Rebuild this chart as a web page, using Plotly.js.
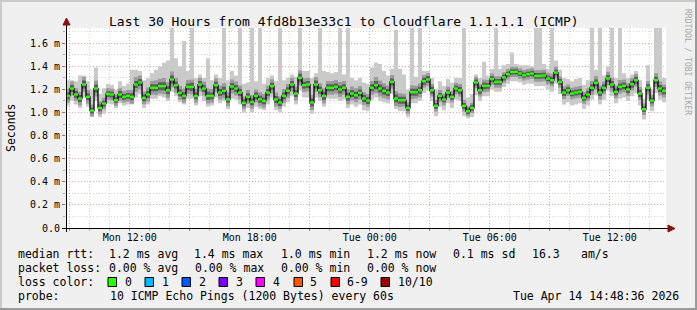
<!DOCTYPE html>
<html><head><meta charset="utf-8">
<script src="https://cdn.plot.ly/plotly-3.0.1.min.js"></script>
<style>html,body{margin:0;padding:0;background:#f0f0f0;}#chart{width:697px;height:310px;}</style>
</head><body><div id="chart"></div>
<script>
// ---- data (ms) ----
const startTime = '2026-04-13 08:48:36';
const endTime = '2026-04-14 14:48:36';
const stepMinutes = 12;

const medianRtt = [
1.144,1.208,1.156,1.121,1.242,1.136,1.017,1.208,1.040,1.078,
1.160,1.156,1.107,1.156,1.136,1.144,1.136,1.242,1.260,1.127,
1.156,1.214,1.214,1.228,1.228,1.193,1.286,1.237,1.170,1.145,
1.222,1.222,1.144,1.242,1.208,1.144,1.144,1.237,1.173,1.188,
1.115,1.225,1.208,1.173,1.084,1.136,1.092,1.144,1.115,1.101,
1.173,1.228,1.113,1.087,1.144,1.188,1.242,1.165,1.300,1.237,
1.242,1.087,1.242,1.193,1.144,1.214,1.214,1.222,1.200,1.214,
1.136,1.165,1.150,1.170,1.121,1.104,1.214,1.237,1.208,1.188,
1.173,1.265,1.121,1.107,1.107,1.040,1.176,1.176,1.193,1.271,
1.286,1.193,1.058,1.144,1.113,1.173,1.136,1.208,1.193,1.058,
1.012,1.040,1.260,1.193,1.231,1.231,1.289,1.265,1.265,1.303,
1.332,1.352,1.352,1.338,1.323,1.332,1.338,1.317,1.317,1.320,
1.294,1.280,1.346,1.265,1.173,1.193,1.165,1.173,1.179,1.127,
1.156,1.214,1.257,1.173,1.214,1.294,1.242,1.179,1.222,1.231,
1.200,1.245,1.280,1.165,1.029,1.214,1.104,1.280,1.208,1.188];

const maxRtt = [
1.28,1.28,1.27,1.32,1.32,1.27,1.20,1.39,1.16,1.21,
1.25,1.24,1.20,1.27,1.23,1.25,1.37,1.37,1.36,1.28,
1.30,1.34,1.37,1.40,1.43,1.45,1.76,1.47,1.40,1.62,
1.36,1.76,1.30,1.33,1.30,1.47,1.28,1.33,1.30,1.76,
1.28,1.36,1.32,1.76,1.25,1.26,1.76,1.27,1.76,1.25,
1.30,1.32,1.27,1.76,1.28,1.30,1.33,1.31,1.76,1.36,
1.36,1.30,1.34,1.76,1.36,1.35,1.34,1.35,1.76,1.33,
1.76,1.30,1.28,1.30,1.26,1.25,1.39,1.43,1.42,1.36,
1.32,1.38,1.72,1.38,1.33,1.20,1.76,1.31,1.76,1.36,
1.36,1.30,1.20,1.27,1.23,1.29,1.26,1.30,1.30,1.76,
1.13,1.16,1.33,1.30,1.44,1.32,1.38,1.76,1.38,1.41,
1.42,1.52,1.42,1.41,1.41,1.41,1.40,1.76,1.76,1.42,
1.38,1.76,1.45,1.37,1.30,1.29,1.27,1.29,1.30,1.24,
1.28,1.76,1.37,1.76,1.32,1.40,1.76,1.30,1.76,1.34,
1.30,1.33,1.36,1.28,1.12,1.41,1.20,1.76,1.76,1.30];

const minRtt = [
1.06,1.10,1.07,1.04,1.13,1.05,0.96,1.10,0.96,0.99,
1.08,1.07,1.04,1.08,1.06,1.07,1.07,1.13,1.16,1.04,
1.07,1.12,1.12,1.14,1.13,1.10,1.18,1.14,1.09,1.07,
1.12,1.12,1.06,1.14,1.10,1.05,1.06,1.13,1.08,1.10,
1.03,1.12,1.11,1.07,1.00,1.04,1.00,1.05,1.03,1.02,
1.07,1.13,1.02,1.00,1.05,1.09,1.14,1.07,1.19,1.13,
1.13,0.99,1.13,1.10,1.05,1.12,1.12,1.12,1.10,1.11,
1.04,1.07,1.05,1.07,1.02,1.01,1.11,1.13,1.10,1.09,
1.08,1.16,1.03,1.01,1.01,0.96,1.08,1.08,1.10,1.17,
1.19,1.10,0.97,1.05,1.02,1.08,1.04,1.11,1.10,0.97,
0.95,0.96,1.15,1.10,1.14,1.14,1.20,1.18,1.18,1.22,
1.25,1.27,1.27,1.26,1.24,1.25,1.25,1.23,1.23,1.23,
1.20,1.18,1.25,1.16,1.07,1.09,1.06,1.07,1.08,1.03,
1.06,1.11,1.15,1.07,1.11,1.19,1.14,1.08,1.12,1.13,
1.10,1.14,1.17,1.06,0.94,1.11,1.01,1.17,1.11,1.09];

const midSpread = [
.060,.060,.055,.060,.065,.060,.050,.070,.055,.050,
.050,.050,.050,.055,.050,.050,.060,.065,.060,.055,
.060,.060,.065,.065,.070,.070,.070,.065,.060,.060,
.060,.065,.060,.060,.060,.065,.060,.060,.060,.065,
.060,.060,.060,.060,.055,.060,.060,.055,.060,.060,
.060,.060,.060,.055,.060,.060,.060,.060,.065,.060,
.060,.065,.065,.060,.065,.060,.060,.060,.065,.060,
.065,.060,.060,.060,.055,.055,.060,.070,.070,.065,
.060,.060,.065,.060,.055,.050,.060,.055,.060,.055,
.055,.055,.050,.050,.050,.050,.050,.050,.055,.050,
.045,.045,.050,.055,.055,.050,.050,.050,.050,.045,
.045,.045,.045,.045,.045,.045,.045,.050,.050,.050,
.050,.055,.050,.050,.055,.050,.050,.050,.050,.050,
.055,.060,.060,.060,.055,.060,.060,.055,.060,.055,
.055,.055,.055,.055,.050,.060,.050,.060,.060,.055];

const darkSpread = [
.030,.030,.030,.030,.035,.030,.025,.035,.030,.025,
.025,.025,.025,.030,.025,.025,.030,.030,.030,.030,
.030,.030,.030,.035,.035,.035,.035,.030,.030,.030,
.030,.035,.030,.030,.030,.035,.030,.030,.030,.035,
.030,.030,.030,.030,.030,.030,.030,.030,.030,.030,
.030,.030,.030,.030,.030,.030,.030,.030,.035,.030,
.030,.035,.035,.030,.035,.030,.030,.030,.035,.030,
.035,.030,.030,.030,.030,.030,.030,.035,.035,.035,
.030,.030,.035,.030,.030,.025,.030,.030,.030,.030,
.030,.030,.025,.025,.025,.025,.025,.025,.030,.025,
.025,.025,.025,.030,.030,.025,.025,.025,.025,.025,
.022,.022,.022,.022,.022,.022,.022,.025,.025,.025,
.025,.030,.025,.025,.030,.025,.025,.025,.025,.025,
.030,.030,.030,.030,.030,.030,.030,.030,.030,.030,
.030,.030,.030,.030,.025,.030,.025,.030,.030,.030];

const yTickVals = [0,0.2,0.4,0.6,0.8,1.0,1.2,1.4,1.6];
const yTickText = ['0.0','0.2 m','0.4 m','0.6 m','0.8 m','1.0 m','1.2 m','1.4 m','1.6 m'];
const xTickVals = ['2026-04-13 09:00','2026-04-13 12:00','2026-04-13 15:00','2026-04-13 18:00','2026-04-13 21:00',
                   '2026-04-14 00:00','2026-04-14 03:00','2026-04-14 06:00','2026-04-14 09:00','2026-04-14 12:00'];
const xTickText = ['','Mon 12:00','','Mon 18:00','','Tue 00:00','','Tue 06:00','','Tue 12:00'];

const titleText = 'Last 30 Hours from 4fd8b13e33c1 to Cloudflare 1.1.1.1 (ICMP)';
const rttLabel = 'median rtt:';
const rttItems = ['1.2 ms avg','1.4 ms max','1.0 ms min','1.2 ms now','0.1 ms sd','16.3','am/s'];
const lossLabel = 'packet loss:';
const lossItems = ['0.00 % avg','0.00 % max','0.00 % min','0.00 % now'];
const lossColorLabel = 'loss color:';
const lossLabels = ['0','1','2','3','4','5','6-9','10/10'];
const lossColors = ['#26ff00','#00b8ff','#0059ff','#7e00ff','#ff00ff','#ff5500','#ff0000','#a10000'];
const probeLabel = 'probe:';
const probeText = '10 ICMP Echo Pings (1200 Bytes) every 60s';
const stampText = 'Tue Apr 14 14:48:36 2026';
const watermark = 'RRDTOOL / TOBI OETIKER';

// ---- geometry helpers (pixel -> paper) ----
const L = 66, T = 28, W = 600, H = 200;
const px = x => (x - L) / W;
const py = y => (T + H - y) / H;

const n = medianRtt.length;
const t0 = Date.UTC(2026,3,13,8,48,36);
const tStr = k => new Date(t0 + k*stepMinutes*60000).toISOString().replace('T',' ').replace('Z','');
const xs = [];
for (let k = 0; k <= n; k++) xs.push(tStr(k));
const ext = a => a.concat([a[a.length-1]]);

const traces = [];
function band(lo, hi, color) {
  traces.push({x: xs, y: ext(lo), mode:'lines', line:{shape:'hv', width:0, color:'rgba(0,0,0,0)'}, hoverinfo:'skip'});
  traces.push({x: xs, y: ext(hi), mode:'lines', fill:'tonexty', fillcolor: color, line:{shape:'hv', width:0, color:'rgba(0,0,0,0)'}, hoverinfo:'skip'});
}
band(minRtt, maxRtt, '#cacaca');
band(medianRtt.map((m,i)=>m-midSpread[i]), medianRtt.map((m,i)=>m+midSpread[i]), '#9c9c9c');
band(medianRtt.map((m,i)=>m-darkSpread[i]), medianRtt.map((m,i)=>m+darkSpread[i]), '#5e5e5e');
traces.push({x: xs, y: ext(medianRtt), mode:'lines', line:{shape:'hv', width:1.3, color:'#000'}, hoverinfo:'skip'});
const gx = [], gy = [];
for (let k = 0; k < n; k++) { gx.push(xs[k], xs[k+1], null); gy.push(medianRtt[k], medianRtt[k], null); }
traces.push({x: gx, y: gy, mode:'lines', line:{width:2.4, color:'#26ff00'}, connectgaps:false, hoverinfo:'skip'});

// ---- annotations ----
const ann = [];
const legendFont = {family:'DejaVu Sans Mono', size:11.5, color:'#000'};
function txt(x, y, s, anchor, font) {
  ann.push({xref:'paper', yref:'paper', x: px(x), y: py(y), xanchor: anchor || 'left', yanchor:'middle',
            text: s, showarrow:false, font: font || legendFont});
}
txt(344, 21, titleText, 'center', {family:'DejaVu Sans Mono', size:13, color:'#000'});
ann.push({xref:'paper', yref:'paper', x: px(11), y: py(128), xanchor:'center', yanchor:'middle',
  text:'Seconds', textangle:-90, showarrow:false, font: legendFont});
ann.push({xref:'paper', yref:'paper', x: px(688), y: py(62), xanchor:'center', yanchor:'middle',
  text: watermark, textangle:90, showarrow:false, font:{family:'DejaVu Sans Mono', size:8, color:'#a8a8a8'}});

const rttX = [107,192,279,365,451,530,579];
txt(16, 253.5, rttLabel);
rttItems.forEach((s,i)=>txt(rttX[i], 253.5, s));
const lossX = [107,193,279,365];
txt(16, 267.5, lossLabel);
lossItems.forEach((s,i)=>txt(lossX[i], 267.5, s));
txt(16, 281.5, lossColorLabel);
const boxX = [108,145,182,219,256,294,331,381];
const labX = [123,160,197,234,271,308,345,396];
const shapes = [];
lossLabels.forEach((s,i)=>{
  txt(labX[i], 281.5, s);
  shapes.push({type:'rect', xref:'paper', yref:'paper', x0: px(boxX[i]), x1: px(boxX[i]+8.5), y0: py(286.5), y1: py(277.5),
    fillcolor: lossColors[i], line:{color:'#000', width:1}});
});
txt(16, 295.5, probeLabel);
txt(108, 295.5, probeText);
txt(681, 295.5, stampText, 'right');

// frame
shapes.push({type:'line', xref:'paper', yref:'paper', x0:px(0), x1:px(697), y0:py(1), y1:py(1), line:{color:'#cbcbcb', width:2}});
shapes.push({type:'line', xref:'paper', yref:'paper', x0:px(1), x1:px(1), y0:py(0), y1:py(310), line:{color:'#cbcbcb', width:2}});
shapes.push({type:'line', xref:'paper', yref:'paper', x0:px(0), x1:px(697), y0:py(309), y1:py(309), line:{color:'#999999', width:2}});
shapes.push({type:'line', xref:'paper', yref:'paper', x0:px(696), x1:px(696), y0:py(0), y1:py(310), line:{color:'#999999', width:2}});
// axes with arrows
shapes.push({type:'line', xref:'paper', yref:'paper', x0:px(66.5), x1:px(66.5), y0:py(232), y1:py(24), line:{color:'#000', width:1}});
shapes.push({type:'line', xref:'paper', yref:'paper', x0:px(62), x1:px(669), y0:py(228.5), y1:py(228.5), line:{color:'#000', width:1}});
shapes.push({type:'path', xref:'paper', yref:'paper',
  path:`M ${px(66.5)} ${py(18)} L ${px(63)} ${py(25)} L ${px(70)} ${py(25)} Z`, fillcolor:'#8b1010', line:{color:'#8b1010', width:1}});
shapes.push({type:'path', xref:'paper', yref:'paper',
  path:`M ${px(675)} ${py(228.5)} L ${px(668)} ${py(225)} L ${px(668)} ${py(232)} Z`, fillcolor:'#8b1010', line:{color:'#8b1010', width:1}});

const majorGrid = '#eba3a3', minorGrid = '#d4d4d4', dots = '1px,2px';
const layout = {
  width:697, height:310, margin:{l:L, r:697-L-W, t:T, b:310-T-H, pad:0},
  paper_bgcolor:'#f0f0f0', plot_bgcolor:'#ffffff', showlegend:false,
  font:{family:'DejaVu Sans Mono', size:10, color:'#000'},
  xaxis:{type:'date', range:[startTime, endTime], tickmode:'array', tickvals:xTickVals, ticktext:xTickText,
    showgrid:true, gridcolor:majorGrid, griddash:dots, gridwidth:1, zeroline:false, showline:false,
    ticks:'outside', ticklen:2, tickcolor:'#d06060', tickfont:{size:10}, ticklabelstandoff:-2,
    minor:{dtick:3600000, tick0:'2026-04-13 00:00', showgrid:true, gridcolor:minorGrid, griddash:dots, ticks:'outside', ticklen:2, tickcolor:'#aaaaaa'},
    fixedrange:true},
  yaxis:{range:[0, 1.732], tickmode:'array', tickvals:yTickVals, ticktext:yTickText,
    showgrid:true, gridcolor:majorGrid, griddash:dots, gridwidth:1, zeroline:false, showline:false,
    ticks:'outside', ticklen:3, tickcolor:'#d06060', tickfont:{size:10},
    minor:{dtick:0.1, tick0:0, showgrid:true, gridcolor:minorGrid, griddash:dots, ticks:'outside', ticklen:2, tickcolor:'#aaaaaa'},
    fixedrange:true},
  annotations: ann, shapes: shapes
};
Plotly.newPlot('chart', traces, layout, {staticPlot:true, displayModeBar:false});
</script>
</body></html>
